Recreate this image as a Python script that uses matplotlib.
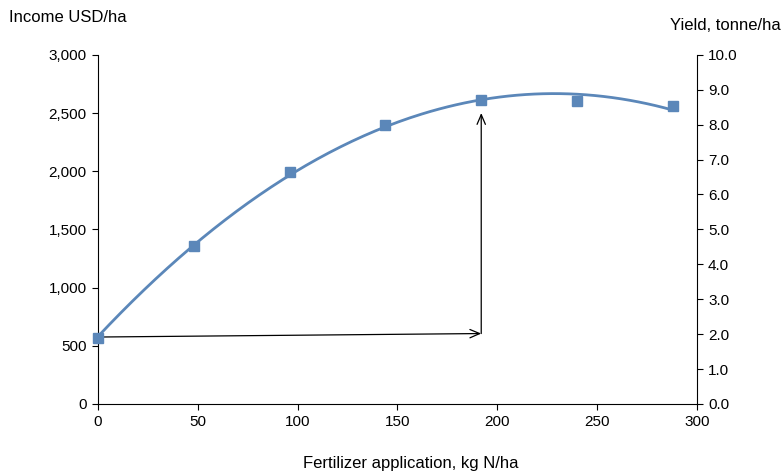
import matplotlib.pyplot as plt
import numpy as np

plt.rcParams['font.family'] = ['Liberation Sans', 'DejaVu Sans']

# fertilizer rate (kg N/ha) and income (USD/ha)
n_rate = [0, 48, 96, 144, 192, 240, 288]
income = [570, 1355, 1995, 2395, 2610, 2605, 2560]

# optimum marked by arrows
opt_rate = 192
arrow_start = 575
arrow_corner = 605
arrow_top = 2500

blue = '#5b87b9'

fig = plt.figure(figsize=(7.83, 4.73), dpi=100)
ax = fig.add_axes([0.125, 0.146, 0.765, 0.738])

# polynomial trend line (2nd order) through the points
coef = np.polyfit(n_rate, income, 2)
xs = np.linspace(0, max(n_rate), 200)
ax.plot(xs, np.polyval(coef, xs), color=blue, lw=2.0, zorder=3)
ax.plot(n_rate, income, 's', color=blue, ms=7.5, zorder=4, clip_on=False)

arrow = dict(arrowstyle='->,head_length=0.7,head_width=0.3', color='black',
             lw=0.9, shrinkA=0, shrinkB=0)
ax.annotate('', xy=(opt_rate, arrow_corner), xytext=(0, arrow_start), arrowprops=arrow)
ax.annotate('', xy=(opt_rate, arrow_top), xytext=(opt_rate, arrow_corner), arrowprops=arrow)

ax.set_xlim(0, 300)
ax.set_ylim(0, 3000)
ax.set_xticks(range(0, 301, 50))
ax.set_yticks(range(0, 3001, 500))
ax.set_yticklabels(['{:,}'.format(v) for v in range(0, 3001, 500)])
ax.spines['top'].set_visible(False)
ax.spines['right'].set_visible(False)
ax.tick_params(direction='out', length=4, labelsize=11, pad=4)

ax2 = ax.twinx()
ax2.set_ylim(0, 10)
ax2.set_yticks(np.arange(0, 10.1, 1))
ax2.set_yticklabels(['%.1f' % v for v in np.arange(0, 10.1, 1)])
for s in ['top', 'left', 'bottom']:
    ax2.spines[s].set_visible(False)
ax2.tick_params(direction='out', length=4, labelsize=11, pad=4)

fig.text(0.012, 0.962, 'Income USD/ha', fontsize=12, ha='left', va='center')
fig.text(0.997, 0.947, 'Yield, tonne/ha', fontsize=12, ha='right', va='center')
fig.text(0.524, 0.021, 'Fertilizer application, kg N/ha', fontsize=12, ha='center', va='center')

plt.savefig('out.png', dpi=100)
